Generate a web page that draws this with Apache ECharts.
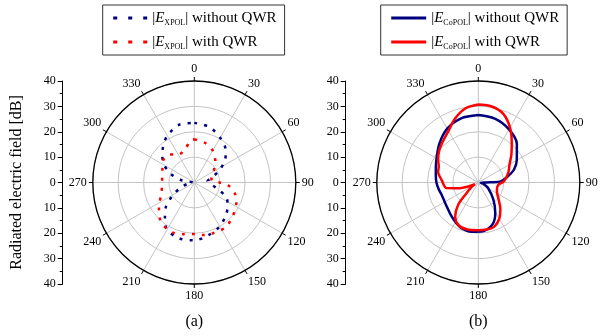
<!DOCTYPE html>
<html><head><meta charset="utf-8">
<script src="https://cdn.jsdelivr.net/npm/echarts@6/dist/echarts.min.js"></script>
<style>html,body{margin:0;padding:0;background:#fff}#c{width:603px;height:336px}</style>
</head><body><div id="c"></div>
<script>
const xpolWithoutAngle = [0,15,30,45,55,65,75,85,95,105,115,125,135,150,165,180,195,210,220,230,240,250,260,270,280,290,300,310,320,330,345,360];
const xpolWithoutR     = [23.5,22.7,20.4,17.6,14.6,10.5,7,5.2,6.5,9.2,14,16,17.8,20,21.5,22.8,22.8,21.5,18,14.5,9.5,5.5,2.5,0.6,5,10,13.6,16.5,19,21.3,23.5,23.5];
const xpolWithAngle = [0,15,30,45,60,75,85,90,95,105,115,130,145,160,170,180,192,203,214,224,236,252,272,290,305,318,330,344,356,360];
const xpolWithR     = [17,16.2,14.5,11.7,8.8,7,7,10,13.5,16.5,18.3,20,21.5,21.3,21,20.3,20.8,21.5,21,19.6,16.8,13.6,12.7,13.4,15,14.8,12.7,13.5,16.9,17];
const copolWithoutAngle = [0,15,30,45,60,70,78,84,88,90,95,105,120,139,151,162,176,188,200,210,220,230,240,250,260,270,280,290,300,315,330,345,360];
const copolWithoutR     = [26.6,26,24.2,21.5,17.5,15,12,10,8.5,3,1,2,4.5,9.1,13.8,17.6,19.4,19.6,19.2,18,16.8,15.8,15.3,15.2,15.8,16.5,17,17.8,19,21.7,24.5,26.2,26.6];
const copolWithAngle = [0,10,20,30,40,50,60,70,80,88,96,110,120,130,140,150,160,170,180,194,205,214,222,228,235,242,248,253,260,274,285,292,300,310,320,330,340,350,360];
const copolWithR     = [30.7,30.4,28.8,25,20.5,17,14.2,12.7,11.2,10,8,7.8,8.6,10.5,13.5,16.5,18.5,18.8,18.8,19,18.5,16.3,11.9,6.3,3.5,1.5,4,7.6,12.7,14.5,16.4,16.8,18.3,20,21.5,23.5,26.8,29.6,30.7];
const radialTicks = [-40,-30,-20,-10,0,10,20,30,40];
const seriesNames = ['|E XPOL| without QWR','|E XPOL| with QWR','|E CoPOL| without QWR','|E CoPOL| with QWR'];
const seriesRich  = ['|{i|E}{s|XPOL}| without QWR','|{i|E}{s|XPOL}| with QWR','|{i|E}{s|CoPOL}| without QWR','|{i|E}{s|CoPOL}| with QWR'];
const panelLabels = ['(a)','(b)'];

// ---- style ----
const FONT = 'Liberation Serif';
const NAVY = '#00007f', RED = '#ff0000', GRAY = '#c4c4c4';
const CY = 182.5, R = 101.5;
const centers = [194.3, 478.3];
const yAxisX = [62.7, 345.7];

function pairs(rs, as){ return rs.map((r,i)=>[r, as[i]]); }

const chart = echarts.init(document.getElementById('c'), null, {renderer:'canvas'});
const polar = centers.map(cx => ({center:[cx, CY], radius:R}));
const angleAxis = centers.map((cx,i) => ({
  polarIndex:i, type:'value', min:0, max:360, interval:30, startAngle:90, clockwise:true,
  axisLine:{show:true, lineStyle:{color:'#000', width:1.3}},
  axisTick:{show:true, length:4, inside:false, lineStyle:{color:'#000', width:1}},
  axisLabel:{margin:6, color:'#000', fontFamily:FONT, fontSize:12, formatter:v => v===360 ? '' : String(v)},
  splitLine:{show:true, lineStyle:{color:GRAY, width:1}}
}));
const radiusAxis = centers.map((cx,i) => ({
  polarIndex:i, type:'value', min:0, max:40, interval:10,
  axisLine:{show:false}, axisTick:{show:false}, axisLabel:{show:false},
  splitLine:{show:true, lineStyle:{color:GRAY, width:1}}
}));
const grid = yAxisX.map(x => ({left:x, top:CY-R, width:20, height:2*R}));
const xAxis = yAxisX.map((x,i) => ({gridIndex:i, type:'value', show:false}));
const yAxis = yAxisX.map((x,i) => ({
  gridIndex:i, type:'value', min:radialTicks[0], max:radialTicks[radialTicks.length-1], interval:10,
  axisLine:{show:true, lineStyle:{color:'#000', width:1}},
  axisTick:{show:true, inside:false, length:5, lineStyle:{color:'#000'}},
  minorTick:{show:true, splitNumber:2, length:3, lineStyle:{color:'#000'}},
  splitLine:{show:false},
  axisLabel:{margin:7, color:'#000', fontFamily:FONT, fontSize:12, formatter:v => String(Math.abs(v))},
  name: i===0 ? 'Radiated electric field [dB]' : '',
  nameLocation:'middle', nameGap:38, nameRotate:90,
  nameTextStyle:{fontFamily:FONT, fontSize:16, color:'#000'}
}));

const richStyle = {
  i:{fontStyle:'italic', fontFamily:FONT, fontSize:15, lineHeight:18, color:'#000'},
  s:{fontFamily:FONT, fontSize:8, lineHeight:8, verticalAlign:'bottom', color:'#000'}
};
function legendCfg(names, left, width, lineStyle){
  return {
    data:names, left:left, top:5, orient:'vertical', itemWidth:width, itemHeight:14, itemGap:6,
    padding:[4,8,4,9], borderColor:'#333', borderWidth:1, selectedMode:false,
    lineStyle: lineStyle,
    itemStyle:{color:'rgba(0,0,0,0)', borderWidth:0, borderColor:'rgba(0,0,0,0)'},
    formatter: n => seriesRich[seriesNames.indexOf(n)],
    textStyle:{fontFamily:FONT, fontSize:15, lineHeight:18, color:'#000', rich:richStyle}
  };
}

const option = {
  animation:false,
  backgroundColor:'#fff',
  polar, angleAxis, radiusAxis, grid, xAxis, yAxis,
  legend:[
    legendCfg(seriesNames.slice(0,2), 102.7, 34, {width:3, type:[4,11]}),
    legendCfg(seriesNames.slice(2,4), 380.7, 35, {width:3, type:'solid'})
  ],
  graphic: panelLabels.map((t,i) => ({type:'text', x:centers[i], y:321.5,
    style:{text:t, fontFamily:FONT, fontSize:16, fill:'#000', textAlign:'center', textVerticalAlign:'middle'}})),
  series:[
    {type:'line', name:seriesNames[0], coordinateSystem:'polar', polarIndex:0, data:pairs(xpolWithoutR, xpolWithoutAngle),
     symbol:'none', smooth:0.3, lineStyle:{color:NAVY, width:2.5, type:[3,7]}, itemStyle:{color:NAVY}},
    {type:'line', name:seriesNames[1], coordinateSystem:'polar', polarIndex:0, data:pairs(xpolWithR, xpolWithAngle),
     symbol:'none', smooth:0.3, lineStyle:{color:RED, width:2.5, type:[3,7]}, itemStyle:{color:RED}},
    {type:'line', name:seriesNames[2], coordinateSystem:'polar', polarIndex:1, data:pairs(copolWithoutR, copolWithoutAngle),
     symbol:'none', smooth:0.3, lineStyle:{color:NAVY, width:2.5}, itemStyle:{color:NAVY}},
    {type:'line', name:seriesNames[3], coordinateSystem:'polar', polarIndex:1, data:pairs(copolWithR, copolWithAngle),
     symbol:'none', smooth:0.3, lineStyle:{color:RED, width:2.5}, itemStyle:{color:RED}}
  ]
};
chart.setOption(option);
</script></body></html>
